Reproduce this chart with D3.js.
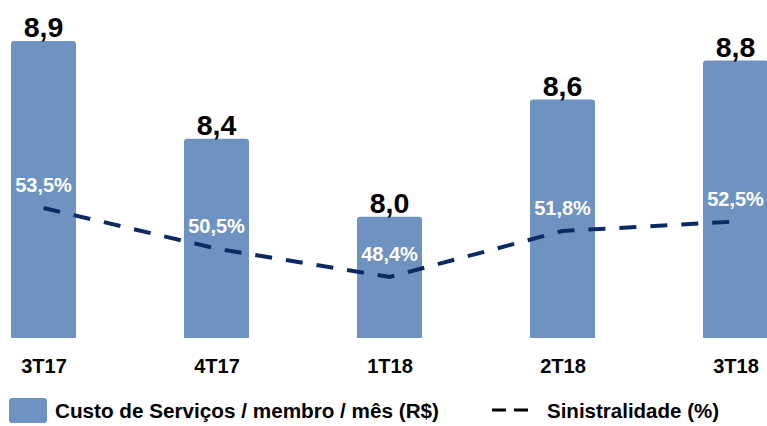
<!DOCTYPE html>
<html>
<head>
<meta charset="utf-8">
<script src="https://cdn.jsdelivr.net/npm/d3@7"></script>
<style>
  html, body { margin: 0; padding: 0; background: #fff; }
  text { font-family: "Liberation Sans", Arial, sans-serif; font-weight: bold; }
</style>
</head>
<body>
<svg id="chart" width="767" height="426"></svg>
<script>
// data
const quarters = ["3T17", "4T17", "1T18", "2T18", "3T18"];
const custo = [8.9, 8.4, 8.0, 8.6, 8.8];          // R$ / membro / mês
const sinistralidade = [53.5, 50.5, 48.4, 51.8, 52.5]; // %

const bar_col = "#6e93c0", line_col = "#0b2a63";
const bar_w = 65;
const fmt = d3.format(".1f");
const br = v => fmt(v).replace(".", ",");

const svg = d3.select("#chart");

// scales
const x = d3.scalePoint().domain(quarters).range([43.5, 735.5]);
const y_bar = d3.scaleLinear().domain([7.38, 8.9]).range([338, 41]);
const y_line = d3.scaleLinear().domain([48.4, 53.5]).range([277, 208]);

// bars (rounded top corners only)
const r = 3;
function bar_path(q, v) {
    var x0 = x(q) - bar_w / 2, x1 = x(q) + bar_w / 2, y0 = y_bar(v), y1 = y_bar.range()[0];
    return "M" + x0 + "," + y1 + "V" + (y0 + r) + "Q" + x0 + "," + y0 + " " + (x0 + r) + "," + y0
        + "H" + (x1 - r) + "Q" + x1 + "," + y0 + " " + x1 + "," + (y0 + r) + "V" + y1 + "Z";
}
svg.selectAll(".bar").data(quarters).join("path").classed("bar", true)
    .attr("d", (q, i) => bar_path(q, custo[i]))
    .attr("fill", bar_col);

// value labels above bars
svg.selectAll(".val").data(quarters).join("text").classed("val", true)
    .attr("x", q => x(q)).attr("y", (q, i) => y_bar(custo[i]) - 4)
    .attr("text-anchor", "middle").attr("font-size", 28.5).attr("fill", "#000")
    .text((q, i) => br(custo[i]));

// dashed line
const line = d3.line().x((d, i) => x(quarters[i])).y(d => y_line(d));
svg.append("path").datum(sinistralidade)
    .attr("d", line)
    .attr("fill", "none").attr("stroke", line_col).attr("stroke-width", 4)
    .attr("stroke-dasharray", "17,14");

// percent labels
svg.selectAll(".pct").data(quarters).join("text").classed("pct", true)
    .attr("x", q => x(q)).attr("y", (q, i) => y_line(sinistralidade[i]) - 16)
    .attr("text-anchor", "middle").attr("font-size", 20).attr("fill", "#fff")
    .text((q, i) => br(sinistralidade[i]) + "%");

// category axis
const axis = svg.append("g").attr("transform", "translate(0,373)")
    .call(d3.axisBottom(x).tickSize(0).tickPadding(0));
axis.select(".domain").remove();
axis.selectAll("text").attr("font-size", 20).attr("fill", "#000").attr("dy", 0)
    .style("font-family", "'Liberation Sans', Arial, sans-serif").style("font-weight", "bold");

// legend
const lg = svg.append("g");
lg.append("rect").attr("x", 9).attr("y", 398).attr("width", 38).attr("height", 25)
    .attr("rx", 3).attr("fill", bar_col);
lg.append("text").attr("x", 55).attr("y", 418).attr("font-size", 20.7).attr("fill", "#000")
    .text("Custo de Serviços / membro / mês (R$)");
lg.append("line").attr("x1", 492).attr("x2", 528).attr("y1", 410).attr("y2", 410)
    .attr("stroke", "#000").attr("stroke-width", 3).attr("stroke-dasharray", "14,8");
lg.append("text").attr("x", 547).attr("y", 418).attr("font-size", 20.5).attr("fill", "#000")
    .text("Sinistralidade (%)");
</script>
</body>
</html>
